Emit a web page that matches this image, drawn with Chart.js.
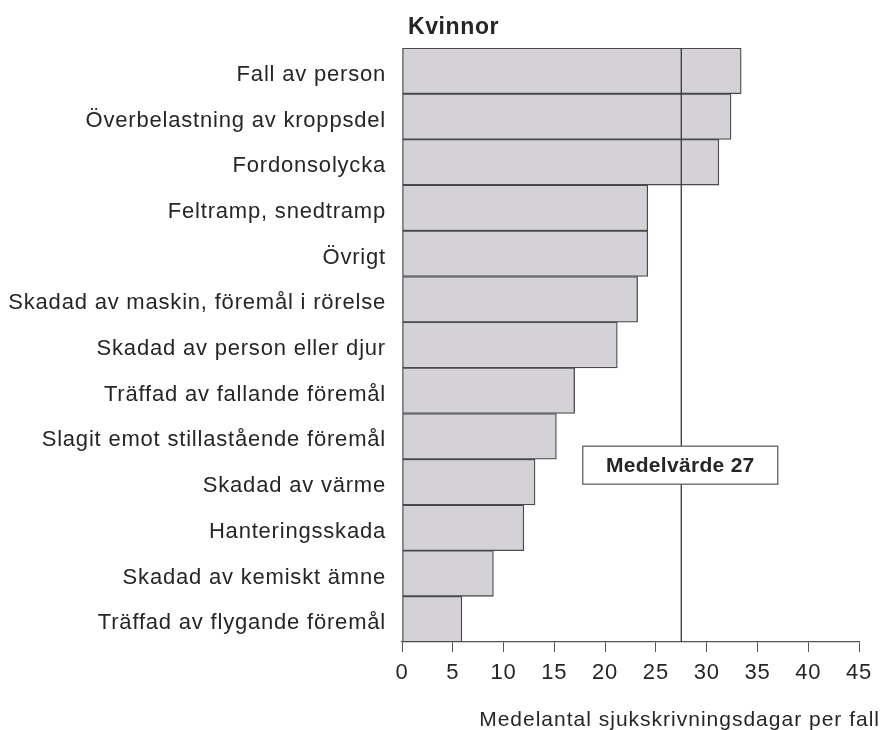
<!DOCTYPE html>
<html>
<head>
<meta charset="utf-8">
<script src="https://cdn.jsdelivr.net/npm/chart.js@4.4.0/dist/chart.umd.min.js"></script>
<style>
  html, body { margin: 0; padding: 0; background: #fff; }
  #wrap { width: 882px; height: 730px; position: relative; }
</style>
</head>
<body>
<div id="wrap"><canvas id="graph" width="882" height="730"></canvas></div>
<script>
const categories = [
    'Fall av person',
    'Överbelastning av kroppsdel',
    'Fordonsolycka',
    'Feltramp, snedtramp',
    'Övrigt',
    'Skadad av maskin, föremål i rörelse',
    'Skadad av person eller djur',
    'Träffad av fallande föremål',
    'Slagit emot stillastående föremål',
    'Skadad av värme',
    'Hanteringsskada',
    'Skadad av kemiskt ämne',
    'Träffad av flygande föremål'
];
const days = [33.4, 32.4, 31.2, 24.2, 24.2, 23.2, 21.2, 17.0, 15.2, 13.1, 12.0, 9.0, 5.9];
const xTicks = [0, 5, 10, 15, 20, 25, 30, 35, 40, 45];
const meanLine = 27.5;
const meanLabel = 'Medelvärde 27';
const chartTitle = 'Kvinnor';
const xTitle = 'Medelantal sjukskrivningsdagar per fall';

const font = "'Liberation Sans', Arial, Helvetica, sans-serif";
const ink = '#262626';

// the printed type is set loosely, widen it a bit
const spacing = {
    id: 'spacing',
    beforeDraw(chart) {
        chart.ctx.letterSpacing = '0.8px';
    }
};

// mean line, its label box, title and axis title
const extras = {
    id: 'extras',
    afterDatasetsDraw(chart) {
        const {ctx, chartArea, scales} = chart;
        const x = scales.x.getPixelForValue(meanLine);
        ctx.save();
        ctx.strokeStyle = '#3a3a3a';
        ctx.lineWidth = 1.3;
        ctx.beginPath();
        ctx.moveTo(x, chartArea.top);
        ctx.lineTo(x, chartArea.bottom);
        ctx.stroke();

        // label box
        const yMid = scales.y.getPixelForValue(8.63);
        const w = 195, h = 38;
        ctx.fillStyle = '#fff';
        ctx.fillRect(x - w / 2 - 1, yMid - h / 2, w, h);
        ctx.strokeStyle = '#555';
        ctx.lineWidth = 1.2;
        ctx.strokeRect(x - w / 2 - 1, yMid - h / 2, w, h);
        ctx.letterSpacing = '0.3px';
        ctx.font = 'bold 21px ' + font;
        ctx.fillStyle = ink;
        ctx.textAlign = 'center';
        ctx.textBaseline = 'middle';
        ctx.fillText(meanLabel, x - 1, yMid + 1);

        // title
        ctx.letterSpacing = '0.6px';
        ctx.font = 'bold 23px ' + font;
        ctx.textAlign = 'left';
        ctx.textBaseline = 'alphabetic';
        ctx.fillText(chartTitle, 408, 34);

        // x axis title
        ctx.letterSpacing = '1px';
        ctx.font = '21px ' + font;
        ctx.textAlign = 'right';
        ctx.fillText(xTitle, 880, 726);
        ctx.restore();
    }
};

new Chart(document.querySelector('#graph').getContext('2d'), {
    type: 'bar',
    data: {
        labels: categories,
        datasets: [{
            data: days,
            backgroundColor: '#d4d2d7',
            borderColor: '#4a4a4a',
            borderWidth: 1.3,
            borderSkipped: false,
            barPercentage: 1,
            categoryPercentage: 1
        }]
    },
    plugins: [spacing, extras],
    options: {
        indexAxis: 'y',
        responsive: false,
        animation: false,
        layout: { padding: { top: 48, right: 23, bottom: 0, left: 0 } },
        plugins: {
            legend: { display: false },
            tooltip: { enabled: false }
        },
        scales: {
            x: {
                min: 0,
                max: 45,
                afterFit(scale) { scale.height = 88; },
                afterBuildTicks(scale) { scale.ticks = xTicks.map(v => ({value: v})); },
                grid: {
                    drawOnChartArea: false,
                    drawTicks: true,
                    tickLength: 10,
                    color: '#555'
                },
                border: { display: true, color: '#555', width: 1.3 },
                ticks: {
                    padding: 8,
                    color: ink,
                    font: { family: font, size: 22 }
                }
            },
            y: {
                afterFit(scale) { scale.width = 402; },
                grid: { display: false },
                border: { display: false },
                ticks: {
                    padding: 8,
                    labelOffset: 4,
                    color: ink,
                    font: { family: font, size: 22 }
                }
            }
        }
    }
});
</script>
</body>
</html>
